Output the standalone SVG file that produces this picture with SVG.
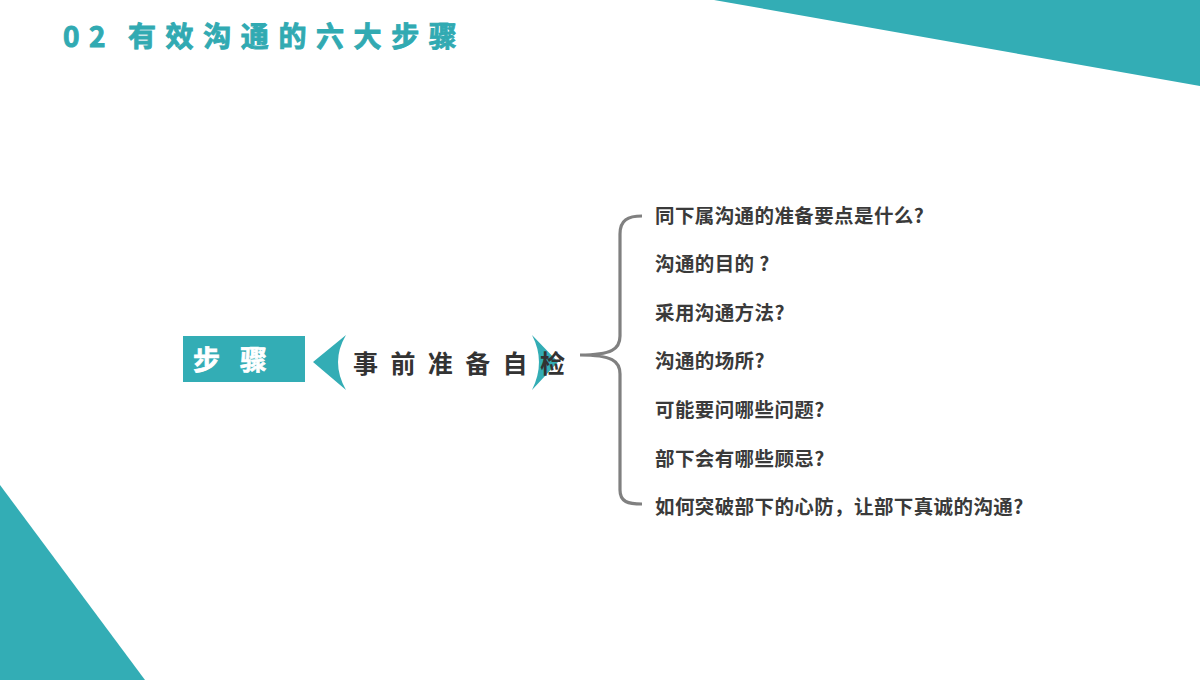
<svg xmlns="http://www.w3.org/2000/svg" width="1200" height="680" viewBox="0 0 1200 680">
<style>
.teal{fill:#33adb5}
.cjk{font-family:"Noto Sans CJK SC","Noto Sans",sans-serif;font-weight:bold}
.item{font-size:19.5px;fill:#3a3a3a;letter-spacing:0.4px}
</style>
<rect width="1200" height="680" fill="#ffffff"/>
<g id="decor">
<polygon class="teal" points="714,0 1200,0 1200,86"/>
<polygon class="teal" points="0,485 0,680 145,680"/>
</g>
<g id="title">
<text class="cjk" y="47" font-size="28" fill="#31aab2" stroke="#31aab2" stroke-width="0.9" letter-spacing="9.6"><tspan x="63">02</tspan><tspan x="128">有效沟通的六大步骤</tspan></text>
</g>
<g id="step">
<rect class="teal" x="183" y="336" width="122" height="46"/>
<text class="cjk" x="193" y="370" font-size="27" fill="#ffffff" stroke="#ffffff" stroke-width="0.7" letter-spacing="20">步骤</text>
</g>
<g id="chevrons">
<path class="teal" d="M313,362 L346,335 Q330,362 346,390 Z"/>
<path class="teal" d="M532,335 L558,362 L532,390 Q546,362 532,335 Z"/>
</g>
<g id="prep">
<text class="cjk" x="353" y="373" font-size="25" fill="#333333" letter-spacing="12.4">事前准备自检</text>
</g>
<g id="connectors">
<path d="M642,216 C628,216 620,220 620,234 L620,336 C620,349 612,355 580,355 C612,355 620,361 620,374 L620,490 C620,502 628,504 642,504" fill="none" stroke="#808080" stroke-width="3.2"/>
</g>
<g id="items" class="cjk item">
<text x="655" y="222.5">同下属沟通的准备要点是什么?</text>
<text x="655" y="271">沟通的目的 ?</text>
<text x="655" y="319.5">采用沟通方法?</text>
<text x="655" y="368">沟通的场所?</text>
<text x="655" y="417">可能要问哪些问题?</text>
<text x="655" y="465.5">部下会有哪些顾忌?</text>
<text x="655" y="514">如何突破部下的心防，让部下真诚的沟通?</text>
</g>
</svg>
